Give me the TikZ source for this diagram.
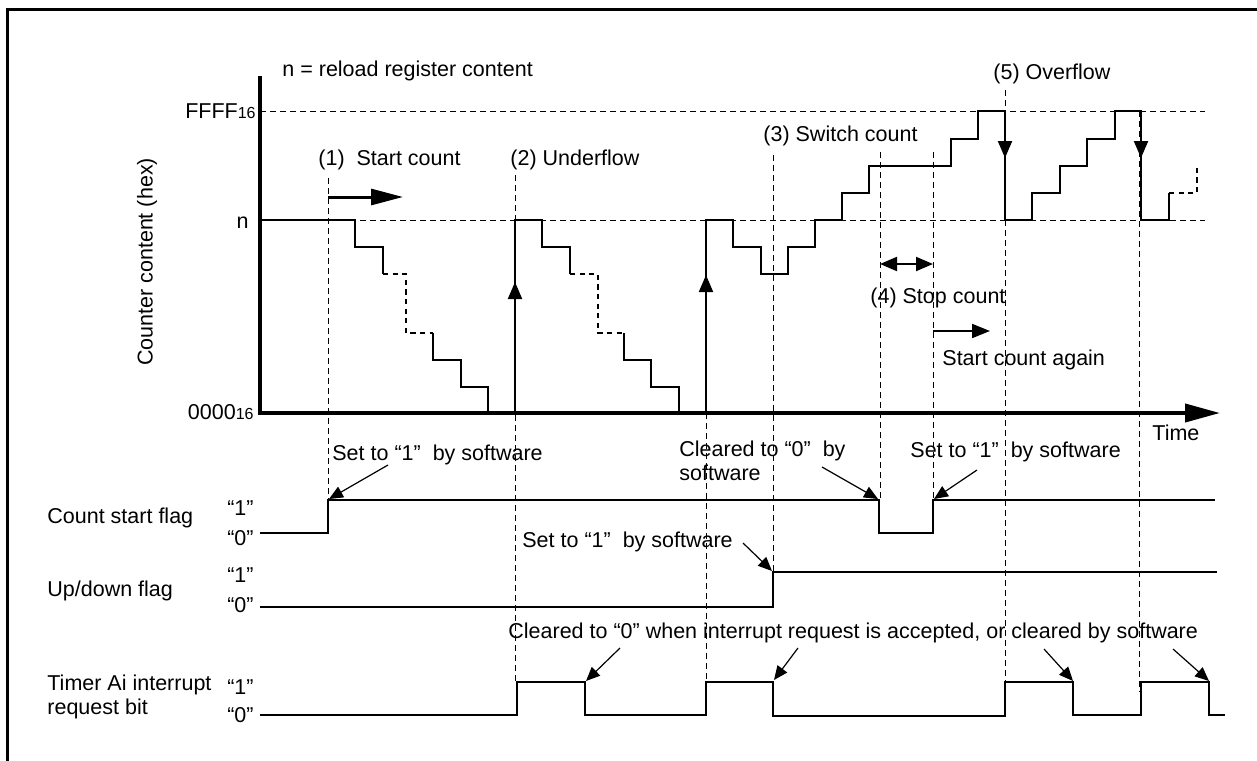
\documentclass[tikz,border=0pt]{standalone}
\usepackage{fontspec}
\setmainfont{Liberation Sans}
\usetikzlibrary{arrows.meta}
\begin{document}
\begin{tikzpicture}[x=0.5pt,y=-0.5pt,
  font=\fontsize{10.75}{12}\selectfont,
  sig/.style={line width=1pt},
  sigdash/.style={line width=0.8pt,dash pattern=on 2.6pt off 2.2pt},
  guide/.style={line width=0.5pt,dash pattern=on 3pt off 2pt},
  axisline/.style={line width=2pt},
  ann/.style={line width=0.6pt,-{Triangle[length=7pt,width=6pt]}},
  lbl/.style={inner sep=0pt,anchor=west},
  rlbl/.style={inner sep=0pt,anchor=east},
  head/.style={-{Triangle[length=8.5pt,width=7pt]}},
]
\useasboundingbox (0,0) rectangle (1257,760);
% frame
\draw[line width=1.5pt] (7,762) -- (7,9) -- (1259,9);

% reference dashed levels
\draw[guide] (260,111) -- (1205,111);
\draw[guide] (260,220) -- (1205,220);

% time markers
\draw[guide] (328,178) -- (328,500);
\draw[guide] (515,175) -- (515,682);
\draw[guide] (706,413) -- (706,682);
\draw[guide] (773,155) -- (773,572);
\draw[guide] (880,152) -- (880,500);
\draw[guide] (933,152) -- (933,500);
\draw[guide] (1005,90) -- (1005,682);
\draw[guide] (1139,111) -- (1139,692);

% axes
\draw[axisline,-{Triangle[length=17.5pt,width=9pt]}] (260,76) -- (260,413) -- (1220,413);

% counter, first down-count
\draw[sig] (260,220) -- (355,220) -- (355,247) -- (383,247) -- (383,274);
\draw[sigdash] (383,274) -- (406,274) -- (406,333) -- (433,333);
\draw[sig] (433,333) -- (433,360) -- (461,360) -- (461,387) -- (488,387) -- (488,413);
% underflow 1
\draw[sig] (515,413) -- (515,220) -- (542,220) -- (542,247) -- (570,247) -- (570,274);
\draw[sig,head] (515,300) -- (515,282);
\draw[sigdash] (570,274) -- (598,274) -- (598,333) -- (624,333);
\draw[sig] (624,333) -- (624,360) -- (651,360) -- (651,387) -- (679,387) -- (679,413);
% underflow 2, switch, stop, overflow
\draw[sig] (706,413) -- (706,220) -- (733,220) -- (733,247) -- (761,247) -- (761,274)
  -- (788,274) -- (788,247) -- (815,247) -- (815,220) -- (842,220) -- (842,193)
  -- (869,193) -- (869,166) -- (951,166) -- (951,139) -- (978,139) -- (978,111)
  -- (1005,111) -- (1005,220) -- (1032,220) -- (1032,193) -- (1060,193) -- (1060,166)
  -- (1087,166) -- (1087,139) -- (1115,139) -- (1115,111) -- (1141,111) -- (1141,220)
  -- (1169,220) -- (1169,193);
\draw[sigdash] (1169,193) -- (1197,193) -- (1197,166);
\draw[sig,head] (706,292) -- (706,275);
\draw[sig,head] (1005,140) -- (1005,158);
\draw[sig,head] (1141,140) -- (1141,158);

% event arrows
\draw[line width=1.5pt,-{Triangle[length=16pt,width=8pt]}] (328,197) -- (403,197);
\draw[line width=1pt,{Triangle[length=8.5pt,width=7pt]}-{Triangle[length=8.5pt,width=7pt]}] (880,264) -- (933,264);
\draw[line width=1pt,-{Triangle[length=9pt,width=7pt]}] (933,331) -- (990,331);

% axis labels
\node[lbl] (reload) at (282,71) {n = reload register content};
\node[rlbl] (ffff) at (256,111) {FFFF{\fontsize{8}{8}\selectfont 16}};
\node[rlbl] (nlev) at (249,223) {n};
\node[rlbl] (zero) at (254,412) {0000{\fontsize{8}{8}\selectfont 16}};
\node[rotate=90,inner sep=0pt] (ylab) at (147,262) {Counter content (hex)};
\node[lbl] (ev1) at (318,160) {(1)\ \ Start count};
\node[lbl] (ev2) at (510,160) {(2) Underflow};
\node[lbl] (ev3) at (763,136) {(3) Switch count};
\node[lbl] (ev4) at (870,298) {(4) Stop count};
\node[lbl] (ev4b) at (942,360) {Start count again};
\node[lbl] (ev5) at (993,74) {(5) Overflow};
\node[lbl] (time) at (1152,433) {Time};

% signal names
\node[lbl] (csf) at (47,518) {Count start flag};
\node[lbl] (udf) at (47,591) {Up/down flag};
\node[lbl,align=left] (tir) at (47,697) {Timer Ai interrupt\\request bit};
\node[rlbl] (c1) at (254,508) {“1”};
\node[rlbl] (c0) at (254,538) {“0”};
\node[rlbl] (u1) at (254,575) {“1”};
\node[rlbl] (u0) at (254,605) {“0”};
\node[rlbl] (t1) at (254,687) {“1”};
\node[rlbl] (t0) at (254,715) {“0”};

% signals
\draw[sig] (260,533) -- (328,533) -- (328,500) -- (879,500) -- (879,533) -- (933,533) -- (933,500) -- (1215,500);
\draw[sig] (260,607) -- (773,607) -- (773,572) -- (1217,572);
\draw[sig] (260,715) -- (517,715) -- (517,682) -- (585,682) -- (585,715) -- (706,715) -- (706,682)
  -- (773,682) -- (773,716) -- (1005,716) -- (1005,682) -- (1073,682) -- (1073,715)
  -- (1141,715) -- (1141,682) -- (1209,682) -- (1209,715) -- (1225,715);

% annotations
\node[lbl] (a1) at (332,455) {Set to “1”\ \ by software};
\node[lbl,align=left] (a2) at (679,461) {Cleared to “0”\ \ by\\software};
\node[lbl] (a3) at (910,452) {Set to “1”\ \ by software};
\node[lbl] (a4) at (522,542) {Set to “1”\ \ by software};
\node[lbl] (a5) at (508,633) {Cleared to “0” when interrupt request is accepted, or cleared by software};

\coordinate (s1) at (388,465); \coordinate (e1) at (329,499);
\coordinate (s2) at (822,467); \coordinate (e2) at (878,499);
\coordinate (s3) at (977,470); \coordinate (e3) at (934,499);
\coordinate (s4) at (743,543); \coordinate (e4) at (772,571);
\coordinate (s5) at (620,648); \coordinate (e5) at (586,681);
\coordinate (s6) at (798,648); \coordinate (e6) at (774,680);
\coordinate (s7) at (1044,649); \coordinate (e7) at (1073,681);
\coordinate (s8) at (1173,649); \coordinate (e8) at (1209,681);
\foreach \i in {1,...,8} {\draw[ann] (s\i) -- (e\i);}
\end{tikzpicture}
\end{document}
